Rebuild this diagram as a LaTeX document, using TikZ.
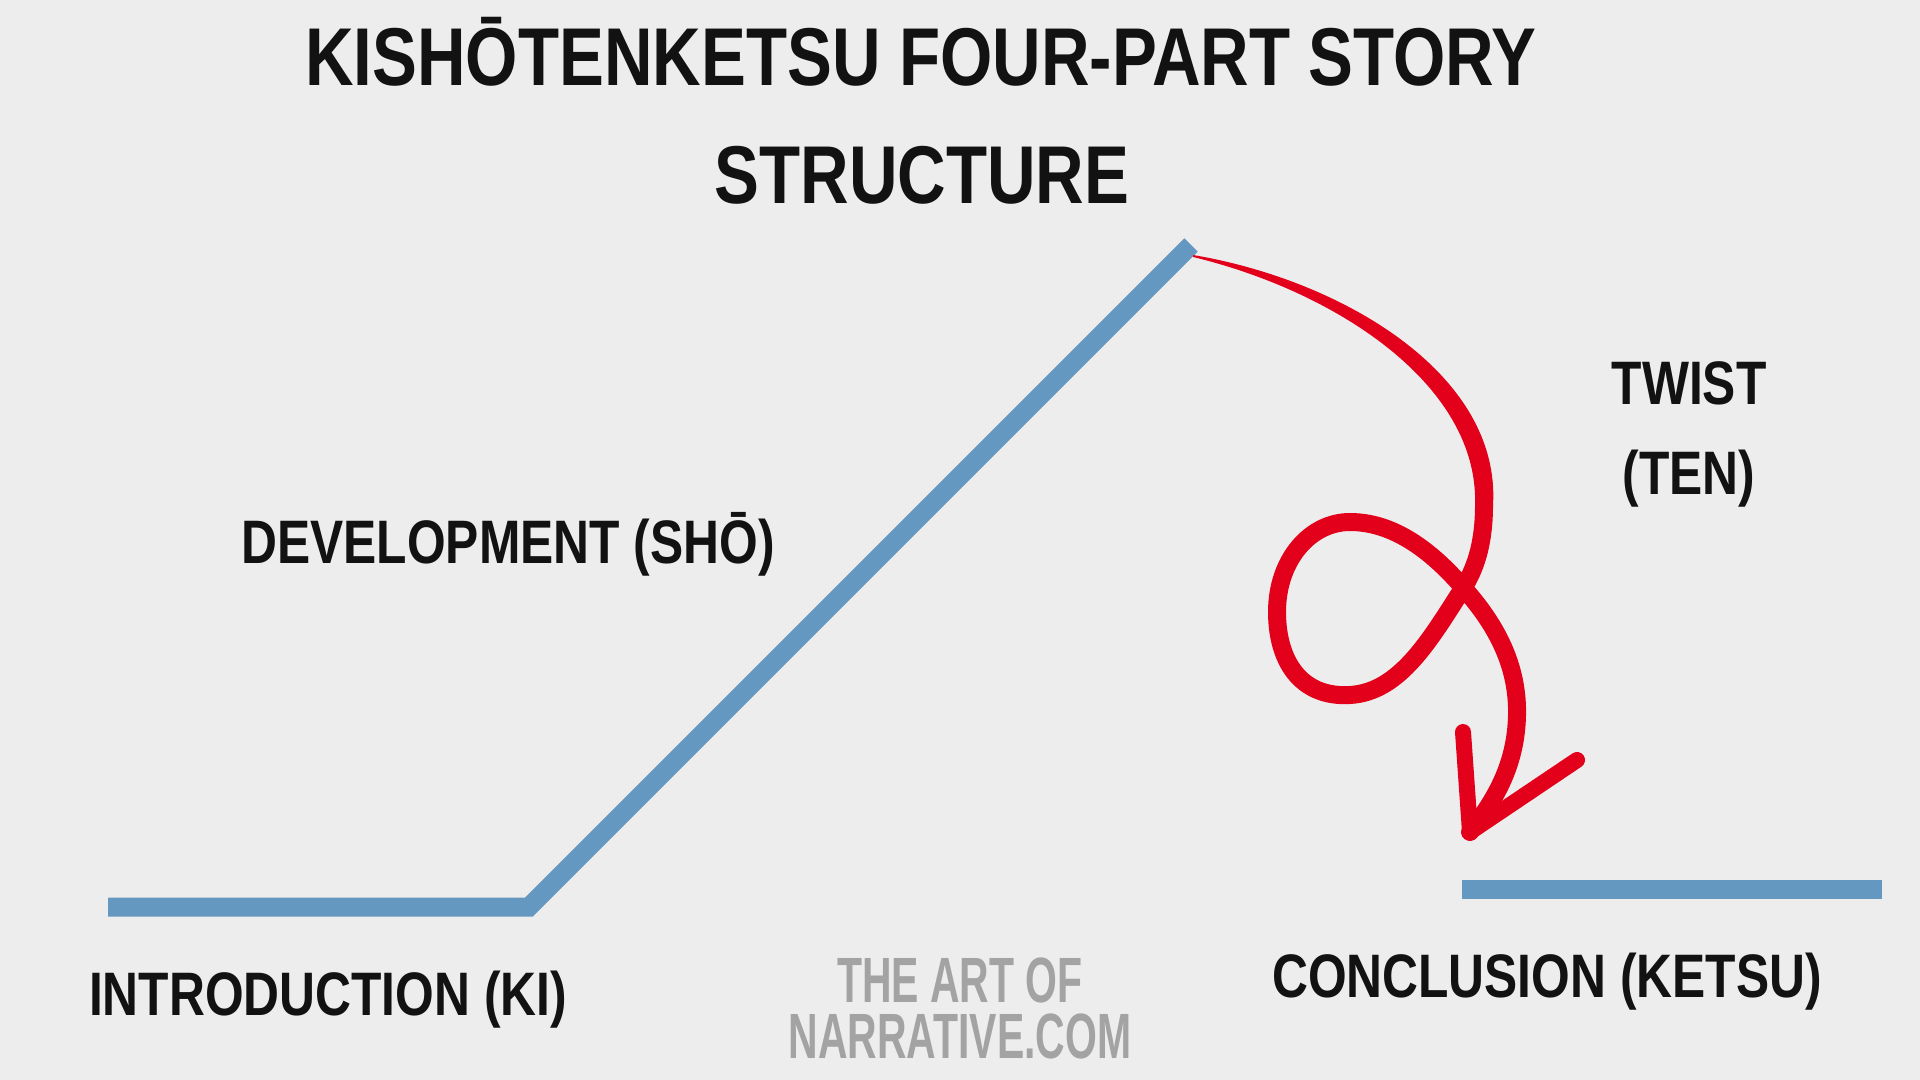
\documentclass[tikz,border=0pt]{standalone}
\usepackage{fontspec}
\setmainfont{Liberation Sans}
\newfontfamily\brushfont{Liberation Sans}[FakeStretch=0.81]
\newfontfamily\headfont{Liberation Sans}[FakeStretch=0.82]
\newfontfamily\markfont{Liberation Sans}[FakeStretch=0.64]
\definecolor{bgcol}{RGB}{237,237,237}
\definecolor{arcblue}{RGB}{101,152,193}
\definecolor{twistred}{RGB}{227,0,27}
\definecolor{markgrey}{RGB}{163,163,163}
\tikzset{
  arc line/.style={draw=arcblue, line width=9.5pt, line cap=butt, line join=miter},
  brush/.style={draw=twistred, line width=9pt, line cap=round, line join=round},
  part label/.style={anchor=base, inner sep=0.75pt, text=black!93, font=\brushfont\bfseries\fontsize{30.7}{34}\selectfont},
  title label/.style={anchor=base, inner sep=0.75pt, text=black!93, font=\headfont\bfseries\fontsize{41}{46}\selectfont},
  mark label/.style={anchor=base, inner sep=0pt, align=center, text=markgrey, font=\markfont\bfseries\fontsize{32}{28}\selectfont}
}
\begin{document}
\begin{tikzpicture}[x=0.5pt,y=-0.5pt]
%background, 1920 x 1080
\fill[bgcol] (0,0) rectangle (1920,1080);
\useasboundingbox (0,0) rectangle (1920,1080);

%points of the story line
\coordinate (kistart) at (108,907);
\coordinate (kiend) at (529,907);
\coordinate (peak) at (1191,245);
\coordinate (ketsustart) at (1462,889);
\coordinate (ketsuend) at (1882,889);

%Straight Lines: introduction and development
\draw [arc line] (kistart) -- (kiend) -- (peak);
%Straight Lines: conclusion
\draw [arc line] (ketsustart) -- (ketsuend);

%Curve Lines: the twist, thin end at the peak
\coordinate (twistA) at (1193,255);
\coordinate (twistB) at (1484,505);
\fill [twistred] (twistA) .. controls (1342,280) and (1501,374) .. (1493,505)
  -- (1475,505) .. controls (1479,386) and (1338,292) .. (1193,257) -- cycle;
%Curve Lines: the loop
\coordinate (tip) at (1470,832);
\draw [brush] (twistB) .. controls (1484,540) and (1477,565) .. (1465,585)
  .. controls (1430,640) and (1400,692) .. (1350,695)
  .. controls (1300,698) and (1277,660) .. (1277,612)
  .. controls (1277,560) and (1310,522) .. (1350,522)
  .. controls (1400,522) and (1440,560) .. (1467,592)
  .. controls (1500,630) and (1518,670) .. (1517,715)
  .. controls (1516,765) and (1495,800) .. (tip);
%Straight Lines: arrow head
\coordinate (headleft) at (1463,732);
\coordinate (headright) at (1577,760);
\draw [brush, line width=8pt] (headleft) -- (tip) -- (headright);

% Text Node
\node [title label] (title1) at (921,86) {KISHŌTENKETSU FOUR-PART STORY};
% Text Node
\node [title label] (title2) at (922,204) {STRUCTURE};
% Text Node
\node [part label] (sho) at (508,563) {DEVELOPMENT (SHŌ)};
% Text Node
\node [part label] (ki) at (328,1015) {INTRODUCTION (KI)};
% Text Node
\node [part label] (ketsu) at (1547,997) {CONCLUSION (KETSU)};
% Text Node
\node [part label] (twist) at (1689,404) {TWIST};
% Text Node
\node [part label] (ten) at (1689,494) {(TEN)};
% Text Node
\node [mark label] (mark) at (960,1058) {THE ART OF\\NARRATIVE.COM};
\end{tikzpicture}
\end{document}
